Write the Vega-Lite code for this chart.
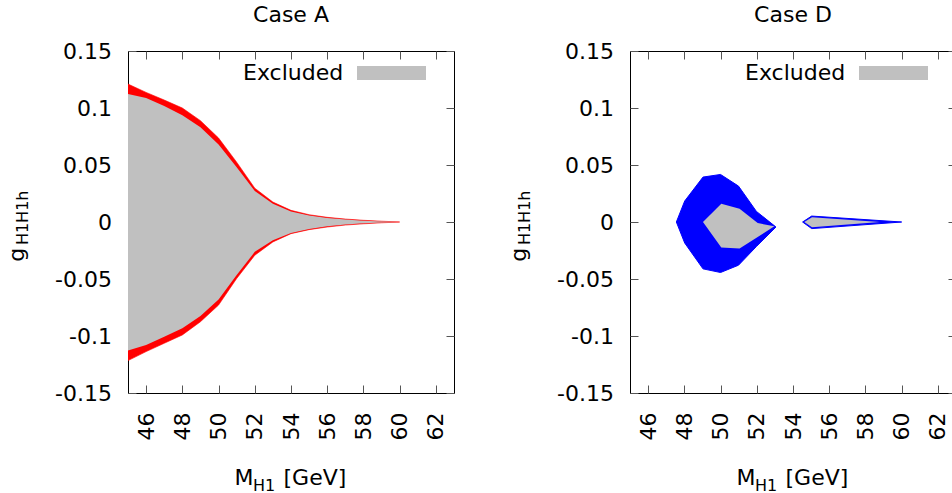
{
  "$schema": "https://vega.github.io/schema/vega-lite/v6.json",
  "padding": {"left": 5, "top": 3, "right": 0, "bottom": 0},
  "spacing": 52,
  "datasets": {
    "caseA": [
      {"x": 45, "ohi": 0.121, "olo": -0.1216, "ihi": 0.1122, "ilo": -0.1128},
      {"x": 46, "ohi": 0.1137, "olo": -0.1137, "ihi": 0.1087, "ilo": -0.1079},
      {"x": 47, "ohi": 0.107, "olo": -0.1064, "ihi": 0.1017, "ilo": -0.1006},
      {"x": 48, "ohi": 0.1, "olo": -0.0991, "ihi": 0.0936, "ilo": -0.0933},
      {"x": 49, "ohi": 0.0889, "olo": -0.0875, "ihi": 0.0831, "ilo": -0.0825},
      {"x": 50, "ohi": 0.0737, "olo": -0.0729, "ihi": 0.0679, "ilo": -0.0679},
      {"x": 51, "ohi": 0.0525, "olo": -0.0496, "ihi": 0.0481, "ilo": -0.0466},
      {"x": 52, "ohi": 0.0297, "olo": -0.0292, "ihi": 0.0271, "ilo": -0.0262},
      {"x": 53, "ohi": 0.0175, "olo": -0.0175, "ihi": 0.016, "ilo": -0.016},
      {"x": 54, "ohi": 0.0102, "olo": -0.0102, "ihi": 0.0093, "ilo": -0.0096},
      {"x": 55, "ohi": 0.0064, "olo": -0.0067, "ihi": 0.0058, "ilo": -0.0061},
      {"x": 56, "ohi": 0.0041, "olo": -0.0044, "ihi": 0.0036, "ilo": -0.0038},
      {"x": 57, "ohi": 0.0026, "olo": -0.0027, "ihi": 0.0022, "ilo": -0.0023},
      {"x": 58, "ohi": 0.0015, "olo": -0.0016, "ihi": 0.0012, "ilo": -0.0012},
      {"x": 59, "ohi": 0.0007, "olo": -0.0007, "ihi": 0.0004, "ilo": -0.0004},
      {"x": 60, "ohi": 0, "olo": 0, "ihi": 0, "ilo": 0}
    ],
    "caseDouter": [
      {"region": 1, "x": 47.56, "hi": 0, "lo": 0},
      {"region": 1, "x": 48.02, "hi": 0.0184, "lo": -0.0184},
      {"region": 1, "x": 49.03, "hi": 0.0394, "lo": -0.0411},
      {"region": 1, "x": 50.0, "hi": 0.0417, "lo": -0.0443},
      {"region": 1, "x": 50.99, "hi": 0.0315, "lo": -0.0379},
      {"region": 1, "x": 51.98, "hi": 0.0093, "lo": -0.0215},
      {"region": 1, "x": 53.06, "hi": -0.0044, "lo": -0.0044},
      {"region": 2, "x": 54.53, "hi": 0, "lo": 0},
      {"region": 2, "x": 55.03, "hi": 0.0052, "lo": -0.0058},
      {"region": 2, "x": 60.0, "hi": 0, "lo": 0}
    ],
    "caseDinner": [
      {"region": 1, "x": 49.03, "hi": 0, "lo": 0},
      {"region": 1, "x": 50.04, "hi": 0.016, "lo": -0.0224},
      {"region": 1, "x": 51.05, "hi": 0.0117, "lo": -0.0233},
      {"region": 1, "x": 52.05, "hi": -0.0009, "lo": -0.0131},
      {"region": 1, "x": 52.97, "hi": -0.0038, "lo": -0.0038},
      {"region": 2, "x": 54.62, "hi": 0, "lo": 0},
      {"region": 2, "x": 55.05, "hi": 0.0042, "lo": -0.0046},
      {"region": 2, "x": 58.8, "hi": 0, "lo": 0}
    ]
  },
  "hconcat": [
    {
      "title": {"text": "Case A"},
      "width": 326,
      "height": 342,
      "data": {"name": "caseA"},
      "resolve": {"axis": {"x": "independent", "y": "independent"}},
      "layer": [
        {
          "mark": {"type": "area", "fill": "#ff0000", "stroke": "#ff0000", "strokeWidth": 0.6, "clip": true},
          "encoding": {
            "x": {"field": "x", "type": "quantitative", "scale": {"domain": [45, 63], "nice": false, "zero": false},
              "axis": {"orient": "bottom", "values": [46, 48, 50, 52, 54, 56, 58, 60, 62], "labelAngle": -90, "labelAlign": "right", "labelBaseline": "middle", "labelPadding": 27, "labelExpr": "'' + datum.value",
                "title": "M", "titleX": 106, "titleY": 91.3, "titleAlign": "left", "titleBaseline": "alphabetic", "titleAngle": 0}},
            "y": {"field": "ohi", "type": "quantitative", "scale": {"domain": [-0.15, 0.15], "nice": false, "zero": false},
              "axis": {"orient": "left", "values": [-0.15, -0.1, -0.05, 0, 0.05, 0.1, 0.15], "labelPadding": 24.5, "labelExpr": "'' + datum.value",
                "title": "g", "titleX": -104.3, "titleY": 210.3, "titleAlign": "left", "titleBaseline": "alphabetic", "titleAngle": -90}},
            "y2": {"field": "olo"}
          }
        },
        {
          "mark": {"type": "area", "clip": true},
          "encoding": {
            "x": {"field": "x", "type": "quantitative",
              "axis": {"orient": "top", "values": [46, 48, 50, 52, 54, 56, 58, 60, 62], "labels": false, "title": null}},
            "y": {"field": "ihi", "type": "quantitative",
              "axis": {"orient": "right", "values": [-0.15, -0.1, -0.05, 0, 0.05, 0.1, 0.15], "labels": false, "title": null}},
            "y2": {"field": "ilo"},
            "fill": {"datum": "Excluded", "type": "nominal", "scale": {"range": ["#c0c0c0"]},
              "legend": {"orient": "top-right", "offset": 15, "title": "Excluded", "titleOrient": "left", "titlePadding": 40.5, "titleBaseline": "middle", "titleAnchor": "middle", "labelExpr": "'.'", "labelColor": "rgba(0,0,0,0)", "labelFontSize": 10, "labelOffset": 37.3, "symbolType": "M-4.93,-1H4.93V1H-4.93Z", "symbolSize": 196, "symbolStrokeWidth": 0, "padding": 0}}
          }
        },
        {
          "mark": {"type": "area", "opacity": 0},
          "encoding": {
            "x": {"field": "x", "type": "quantitative",
              "axis": {"orient": "bottom", "labels": false, "ticks": false, "title": "H1", "titleFontSize": 16, "titleX": 124.5, "titleY": 97, "titleAlign": "left", "titleBaseline": "alphabetic", "titleAngle": 0}},
            "y": {"field": "ihi", "type": "quantitative",
              "axis": {"orient": "left", "labels": false, "ticks": false, "title": "H1H1h", "titleFontSize": 16, "titleX": -100.3, "titleY": 193.6, "titleAlign": "left", "titleBaseline": "alphabetic", "titleAngle": -90}},
            "y2": {"field": "ilo"}
          }
        },
        {
          "mark": {"type": "area", "opacity": 0},
          "encoding": {
            "x": {"field": "x", "type": "quantitative",
              "axis": {"orient": "bottom", "labels": false, "ticks": false, "title": "[GeV]", "titleX": 155, "titleY": 91.3, "titleAlign": "left", "titleBaseline": "alphabetic", "titleAngle": 0}},
            "y": {"field": "ihi", "type": "quantitative", "axis": null},
            "y2": {"field": "ilo"}
          }
        }
      ]
    },
    {
      "title": {"text": "Case D"},
      "width": 326,
      "height": 342,
      "resolve": {"axis": {"x": "independent", "y": "independent"}},
      "layer": [
        {
          "data": {"name": "caseDouter"},
          "mark": {"type": "area", "fill": "#0000ff", "stroke": "#0000ff", "strokeWidth": 1, "clip": true},
          "encoding": {
            "detail": {"field": "region", "type": "nominal"},
            "x": {"field": "x", "type": "quantitative", "scale": {"domain": [45, 63], "nice": false, "zero": false},
              "axis": {"orient": "bottom", "values": [46, 48, 50, 52, 54, 56, 58, 60, 62], "labelAngle": -90, "labelAlign": "right", "labelBaseline": "middle", "labelPadding": 27, "labelExpr": "'' + datum.value",
                "title": "M", "titleX": 106, "titleY": 91.3, "titleAlign": "left", "titleBaseline": "alphabetic", "titleAngle": 0}},
            "y": {"field": "hi", "type": "quantitative", "scale": {"domain": [-0.15, 0.15], "nice": false, "zero": false},
              "axis": {"orient": "left", "values": [-0.15, -0.1, -0.05, 0, 0.05, 0.1, 0.15], "labelPadding": 24.5, "labelExpr": "'' + datum.value",
                "title": "g", "titleX": -104.3, "titleY": 210.3, "titleAlign": "left", "titleBaseline": "alphabetic", "titleAngle": -90}},
            "y2": {"field": "lo"}
          }
        },
        {
          "data": {"name": "caseDinner"},
          "mark": {"type": "area", "clip": true},
          "encoding": {
            "detail": {"field": "region", "type": "nominal"},
            "x": {"field": "x", "type": "quantitative",
              "axis": {"orient": "top", "values": [46, 48, 50, 52, 54, 56, 58, 60, 62], "labels": false, "title": null}},
            "y": {"field": "hi", "type": "quantitative",
              "axis": {"orient": "right", "values": [-0.15, -0.1, -0.05, 0, 0.05, 0.1, 0.15], "labels": false, "title": null}},
            "y2": {"field": "lo"},
            "fill": {"datum": "Excluded", "type": "nominal", "scale": {"range": ["#c0c0c0"]},
              "legend": {"orient": "top-right", "offset": 15, "title": "Excluded", "titleOrient": "left", "titlePadding": 40.5, "titleBaseline": "middle", "titleAnchor": "middle", "labelExpr": "'.'", "labelColor": "rgba(0,0,0,0)", "labelFontSize": 10, "labelOffset": 37.3, "symbolType": "M-4.93,-1H4.93V1H-4.93Z", "symbolSize": 196, "symbolStrokeWidth": 0, "padding": 0}}
          }
        },
        {
          "data": {"name": "caseDinner"},
          "mark": {"type": "area", "opacity": 0},
          "encoding": {
            "detail": {"field": "region", "type": "nominal"},
            "x": {"field": "x", "type": "quantitative",
              "axis": {"orient": "bottom", "labels": false, "ticks": false, "title": "H1", "titleFontSize": 16, "titleX": 124.5, "titleY": 97, "titleAlign": "left", "titleBaseline": "alphabetic", "titleAngle": 0}},
            "y": {"field": "hi", "type": "quantitative",
              "axis": {"orient": "left", "labels": false, "ticks": false, "title": "H1H1h", "titleFontSize": 16, "titleX": -100.3, "titleY": 193.6, "titleAlign": "left", "titleBaseline": "alphabetic", "titleAngle": -90}},
            "y2": {"field": "lo"}
          }
        },
        {
          "data": {"name": "caseDinner"},
          "mark": {"type": "area", "opacity": 0},
          "encoding": {
            "detail": {"field": "region", "type": "nominal"},
            "x": {"field": "x", "type": "quantitative",
              "axis": {"orient": "bottom", "labels": false, "ticks": false, "title": "[GeV]", "titleX": 155, "titleY": 91.3, "titleAlign": "left", "titleBaseline": "alphabetic", "titleAngle": 0}},
            "y": {"field": "hi", "type": "quantitative", "axis": null},
            "y2": {"field": "lo"}
          }
        }
      ]
    }
  ],
  "resolve": {"scale": {"fill": "independent"}, "legend": {"fill": "independent"}},
  "config": {
    "font": "DejaVu Sans",
    "background": "white",
    "view": {"stroke": "#000000", "strokeWidth": 1},
    "axis": {"grid": false, "domain": false, "tickSize": -8, "tickColor": "#555555", "tickWidth": 1,
      "labelFont": "DejaVu Sans", "labelFontSize": 22, "labelColor": "#000000",
      "titleFont": "DejaVu Sans", "titleFontSize": 22, "titleFontWeight": "normal", "titleColor": "#000000"},
    "legend": {"titleFont": "DejaVu Sans", "titleFontSize": 22, "titleFontWeight": "normal", "titleColor": "#000000"},
    "title": {"font": "DejaVu Sans", "fontSize": 22, "fontWeight": "normal", "color": "#000000", "anchor": "middle", "offset": 13}
  }
}
